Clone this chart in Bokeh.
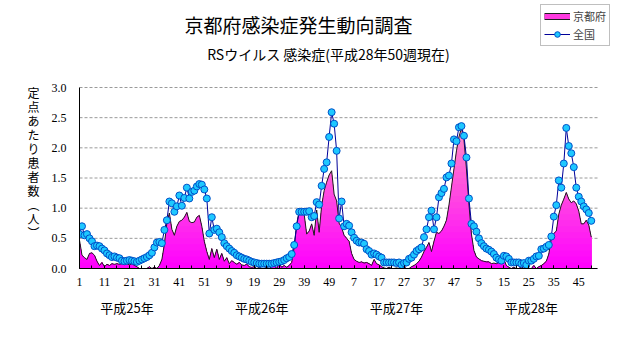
import numpy as np
from bokeh.plotting import figure
from bokeh.models import (Range1d, FixedTicker, PrintfTickFormatter, Label,
                          Legend, LegendItem, LinearAxis)
from bokeh.embed import file_html
from bokeh.resources import INLINE

# ---------------- data ----------------
title_text = "京都府感染症発生動向調査"
subtitle_text = "RSウイルス 感染症(平成28年50週現在)"
y_axis_title_chars = ["定", "点", "あ", "た", "り", "患", "者", "数", "︵", "人", "︶"]
years = ["平成25年", "平成26年", "平成27年", "平成28年"]
series_names = ["京都府", "全国"]

kyoto_h25 = [0.47, 0.22, 0.18, 0.15, 0.25, 0.26, 0.22, 0.12, 0.05, 0.10,
             0.03, 0.07, 0.05, 0.08, 0.07, 0.08, 0.07, 0.08, 0.07, 0.08,
             0.06, 0.08, 0.05, 0.03, 0.00, 0.00, 0.00, 0.00, 0.03, 0.00,
             0.02, 0.00, 0.05, 0.15, 0.40, 0.75, 0.92, 0.65, 0.55, 0.70,
             0.78, 0.80, 0.85, 0.93, 0.78, 0.76, 0.77, 0.85, 0.88, 0.70,
             0.45, 0.28]
kyoto_h26 = [0.15, 0.33, 0.18, 0.32, 0.15, 0.25, 0.12, 0.18, 0.08, 0.13,
             0.10, 0.07, 0.10, 0.06, 0.05, 0.07, 0.03, 0.02, 0.03, 0.00,
             0.02, 0.00, 0.00, 0.02, 0.00, 0.03, 0.05, 0.00, 0.08, 0.02,
             0.05, 0.02, 0.05, 0.10, 0.35, 0.74, 0.95, 0.93, 0.90, 0.57,
             0.62, 0.74, 0.55, 0.97, 0.60, 1.04, 1.29, 1.43, 1.55, 1.62,
             1.23, 1.12]
kyoto_h27 = [0.75, 0.68, 0.55, 0.50, 0.45, 0.25, 0.15, 0.12, 0.10, 0.11,
             0.09, 0.10, 0.08, 0.05, 0.15, 0.08, 0.06, 0.03, 0.01, 0.00,
             0.02, 0.00, 0.00, 0.01, 0.00, 0.00, 0.02, 0.00, 0.00, 0.03,
             0.05, 0.08, 0.12, 0.19, 0.28, 0.35, 0.43, 0.28, 0.45, 0.60,
             0.58, 0.62, 0.70, 0.80, 1.05, 1.35, 1.65, 1.95, 2.18, 2.33,
             2.14, 1.65]
kyoto_h28 = [1.07, 0.57, 0.30, 0.19, 0.16, 0.13, 0.12, 0.11, 0.11, 0.08,
             0.09, 0.08, 0.10, 0.12, 0.15, 0.05, 0.02, 0.00, 0.02, 0.00,
             0.00, 0.03, 0.00, 0.02, 0.00, 0.00, 0.05, 0.00, 0.03, 0.05,
             0.08, 0.12, 0.24, 0.50, 0.58, 0.62, 0.90, 1.05, 1.15, 1.26,
             1.15, 1.09, 1.12, 1.07, 0.95, 0.74, 0.74, 0.80, 0.72, 0.52]

national_h25 = [0.57, 0.70, 0.55, 0.57, 0.50, 0.45, 0.37, 0.38, 0.37, 0.33,
                0.30, 0.25, 0.22, 0.19, 0.20, 0.18, 0.17, 0.13, 0.12, 0.13,
                0.14, 0.13, 0.12, 0.11, 0.13, 0.15, 0.17, 0.19, 0.22, 0.26,
                0.35, 0.43, 0.44, 0.42, 0.64, 0.80, 1.11, 1.08, 0.94, 1.03,
                1.21, 1.04, 1.17, 1.34, 1.16, 1.27, 1.29, 1.36, 1.40, 1.39,
                1.31, 1.16]
national_h26 = [0.58, 0.85, 0.64, 0.66, 0.60, 0.52, 0.42, 0.37, 0.33, 0.29,
                0.26, 0.22, 0.20, 0.18, 0.16, 0.15, 0.13, 0.11, 0.10, 0.09,
                0.08, 0.08, 0.08, 0.08, 0.08, 0.08, 0.09, 0.10, 0.11, 0.12,
                0.14, 0.17, 0.19, 0.24, 0.39, 0.70, 0.94, 0.94, 0.94, 0.94,
                0.95, 0.85, 0.87, 1.10, 1.06, 1.37, 1.65, 1.76, 2.18, 2.59,
                2.40, 1.95]
national_h27 = [0.83, 1.11, 0.70, 0.74, 0.71, 0.60, 0.51, 0.46, 0.43, 0.43,
                0.41, 0.32, 0.29, 0.23, 0.25, 0.23, 0.20, 0.18, 0.10, 0.10,
                0.10, 0.10, 0.10, 0.09, 0.10, 0.06, 0.09, 0.10, 0.16, 0.18,
                0.23, 0.29, 0.32, 0.35, 0.52, 0.65, 0.85, 0.96, 0.65, 0.85,
                1.18, 1.25, 1.32, 1.51, 1.54, 1.74, 2.14, 2.11, 2.34, 2.36,
                2.20, 1.84]
national_h28 = [1.16, 0.74, 0.70, 0.61, 0.50, 0.42, 0.37, 0.33, 0.31, 0.28,
                0.24, 0.18, 0.15, 0.13, 0.21, 0.20, 0.16, 0.10, 0.10, 0.10,
                0.10, 0.08, 0.09, 0.06, 0.13, 0.13, 0.16, 0.20, 0.21, 0.32,
                0.33, 0.36, 0.39, 0.53, 0.86, 1.05, 1.46, 1.34, 1.74, 2.33,
                2.03, 1.91, 1.68, 1.34, 1.19, 1.11, 1.03, 0.98, 0.92, 0.79]

x_tick_labels = ["1", "11", "21", "31", "41", "51", "9", "19", "29", "39", "49",
                 "7", "17", "27", "37", "47", "5", "15", "25", "35", "45"]
y_ticks = [0.0, 0.5, 1.0, 1.5, 2.0, 2.5, 3.0]

kyoto = np.array(kyoto_h25 + kyoto_h26 + kyoto_h27 + kyoto_h28)
national = np.array(national_h25 + national_h26 + national_h27 + national_h28)
x = np.arange(len(kyoto))

# ---------------- layout ----------------
W, H = 631, 347
L, R, T, B = 79, 597, 87, 268          # plot-area box in pixels
X_END, Y_END = 207.5, 3.0               # data values at R and T
XPX = (R - L) / X_END                   # px per week
YPX = (B - T) / Y_END                   # px per unit
X_RIGHT = (W - L) / XPX                 # frame reaches the right edge
Y_TOP = B / YPX                         # frame reaches the top edge


def px_x(px):
    return (px - L) / XPX


def px_y(py):
    return (B - py) / YPX


JP = "Noto Sans CJK JP"
NUM = "Liberation Sans Narrow"

p = figure(width=W, height=H, output_backend="svg", toolbar_location=None,
           x_range=Range1d(0, X_RIGHT), y_range=Range1d(0, Y_TOP),
           min_border_left=L, min_border_right=0,
           min_border_top=0, min_border_bottom=H - B)
p.outline_line_color = None
p.background_fill_color = "white"
p.border_fill_color = "white"
p.xgrid.visible = False
p.ygrid.visible = False

# horizontal dashed gridlines limited to the plot area
p.segment(x0=[0] * len(y_ticks), x1=[X_END] * len(y_ticks), y0=y_ticks, y1=y_ticks,
          line_color="#9a9a9a", line_dash="3 2", line_width=1)

# x axis (weeks)
p.xaxis.bounds = (0, X_END)
p.xaxis.ticker = FixedTicker(ticks=list(range(0, 201, 10)),
                             minor_ticks=list(range(0, 206, 5)))
p.xaxis.major_label_overrides = {i * 10: lbl for i, lbl in enumerate(x_tick_labels)}
p.xaxis.axis_line_color = "black"
p.xaxis.major_tick_line_color = "black"
p.xaxis.minor_tick_line_color = "black"
p.xaxis.major_tick_in = 3
p.xaxis.major_tick_out = 0
p.xaxis.minor_tick_in = 3
p.xaxis.minor_tick_out = 0
p.xaxis.major_label_text_font = NUM
p.xaxis.major_label_text_font_size = "12px"
p.xaxis.major_label_text_color = "black"
p.xaxis.major_label_standoff = 9

# second x axis with the year names
year_ticks = [19, 73, 127, 181]
year_axis = LinearAxis(ticker=FixedTicker(ticks=year_ticks),
                       major_label_overrides={t: y for t, y in zip(year_ticks, years)},
                       axis_line_color=None, major_tick_line_color=None,
                       minor_tick_line_color=None, major_label_standoff=3,
                       major_label_text_font=JP, major_label_text_font_size="13px",
                       major_label_text_color="black")
p.add_layout(year_axis, "below")

# y axis
p.yaxis.bounds = (0, Y_END)
p.yaxis.ticker = FixedTicker(ticks=y_ticks)
p.yaxis.formatter = PrintfTickFormatter(format="%.1f")
p.yaxis.axis_line_color = "black"
p.yaxis.major_tick_in = 0
p.yaxis.major_tick_out = 0
p.yaxis.minor_tick_line_color = None
p.yaxis.major_label_text_font = NUM
p.yaxis.major_label_text_font_size = "12px"
p.yaxis.major_label_text_color = "black"
p.yaxis.major_label_standoff = 13
# upright stacked characters; leading blank rows move the column down
p.yaxis.axis_label = "\n".join(["\u3000"] * 4 + y_axis_title_chars)
p.yaxis.axis_label_orientation = "horizontal"
p.yaxis.axis_label_standoff = 9
p.yaxis.axis_label_text_font = JP
p.yaxis.axis_label_text_font_size = "12px"
p.yaxis.axis_label_text_font_style = "normal"
p.yaxis.axis_label_text_line_height = 0.82
p.yaxis.axis_label_text_color = "black"

# Kyoto area with vertical gradient (top band first, darker bands over it)
step = 0.1
for hi in np.arange(2.5, 0, -step):
    t = min(1.0, (hi - step / 2) / 2.5)
    col = "#%02x%02x%02x" % (255, int(150 * t), int(255 - 60 * t))
    p.varea(x=x, y1=np.zeros_like(kyoto), y2=np.minimum(kyoto, hi),
            fill_color=col, fill_alpha=1.0)
p.line(x, kyoto, line_color="#1e1e1e", line_width=1)

# national line with markers
nat_line = p.line(x, national, line_color="#000099", line_width=1)
nat_pts = p.scatter(x, national, size=7, marker="circle",
                    fill_color="#1ec8ff", line_color="#0050c8", line_width=1)

# legend-only proxies for Kyoto (bordered magenta bar); NaN data draws nothing
nan_pair = [np.nan, np.nan]
leg_k1 = p.line(x=nan_pair, y=nan_pair, line_color="#1e1e1e", line_width=7, line_cap="butt")
leg_k2 = p.line(x=nan_pair, y=nan_pair, line_color="#ff3ae0", line_width=5, line_cap="butt")

legend = Legend(items=[LegendItem(label=series_names[0], renderers=[leg_k1, leg_k2]),
                       LegendItem(label=series_names[1], renderers=[nat_line, nat_pts])],
                location=(540 - L, B - 46))
legend.glyph_width = 26
legend.glyph_height = 14
legend.label_standoff = 3
legend.label_text_font = JP
legend.label_text_font_size = "11px"
legend.label_height = 14
legend.padding = 3
legend.spacing = 2
legend.margin = 0
legend.border_line_color = "#808080"
legend.border_line_width = 1
legend.background_fill_color = "white"
legend.background_fill_alpha = 1.0
p.add_layout(legend)

# titles
p.add_layout(Label(x=px_x(298), y=px_y(24), text=title_text, text_align="center",
                   text_baseline="middle", text_font=JP, text_font_size="19px",
                   text_color="black"))
p.add_layout(Label(x=px_x(328), y=px_y(53), text=subtitle_text, text_align="center",
                   text_baseline="middle", text_font=JP, text_font_size="14px",
                   text_color="black"))

open("out.html", "w").write(file_html(p, INLINE))
